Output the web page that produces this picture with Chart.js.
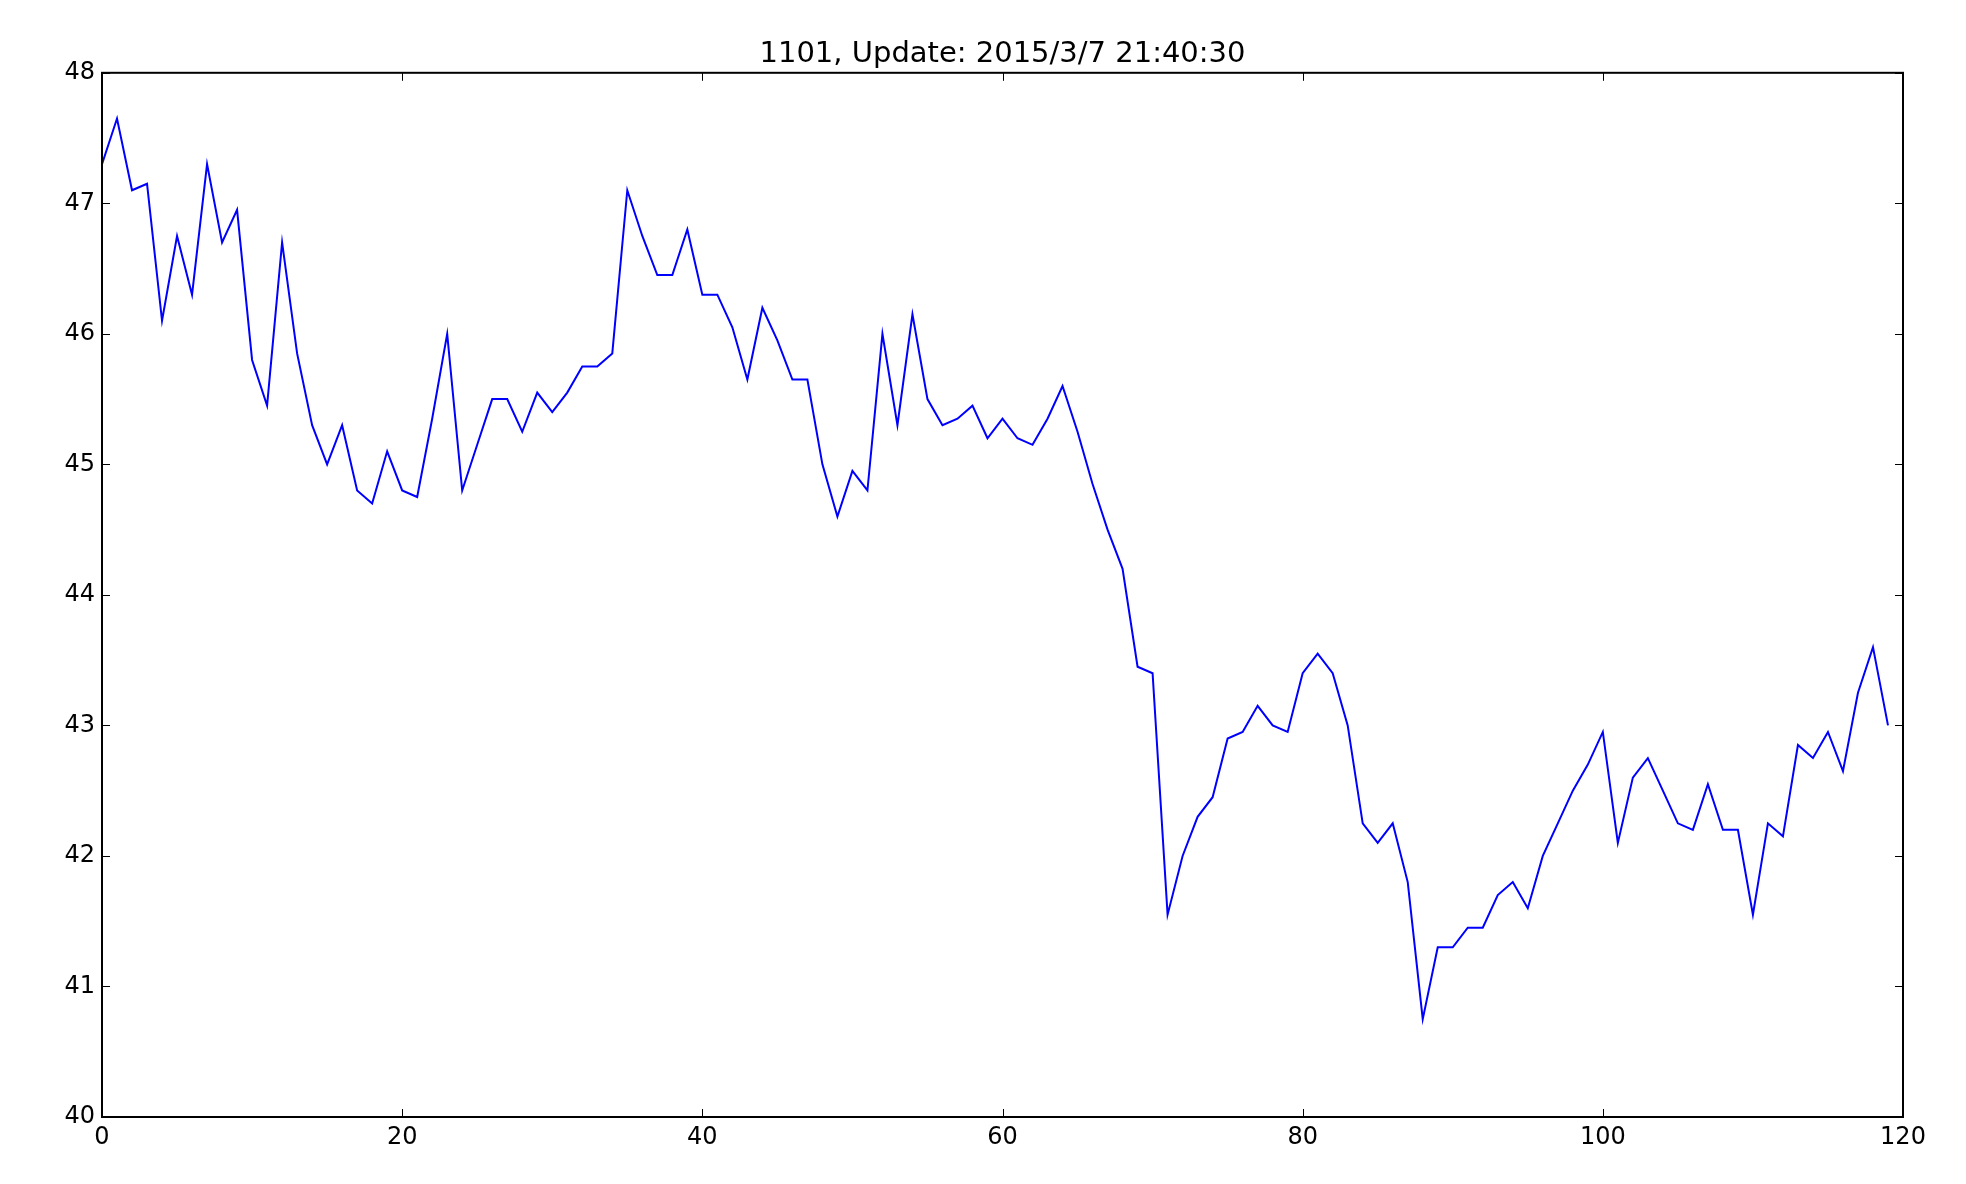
<!DOCTYPE html>
<html>
<head>
<meta charset="utf-8">
<script src="https://cdn.jsdelivr.net/npm/chart.js@4/dist/chart.umd.min.js"></script>
<style>
html,body{margin:0;padding:0;background:#fff;}
#wrap{width:1966px;height:1184px;}
</style>
</head>
<body>
<div id="wrap"><canvas id="c" width="1966" height="1184"></canvas></div>
<script>
const titleText = "1101, Update: 2015/3/7 21:40:30";
const prices = [
  47.3, 47.65, 47.1, 47.15, 46.1, 46.75, 46.3, 47.3, 46.7, 46.95,
  45.8, 45.45, 46.7, 45.85, 45.3, 45.0, 45.3, 44.8, 44.7, 45.1,
  44.8, 44.75, 45.35, 46.0, 44.8, 45.15, 45.5, 45.5, 45.25, 45.55,
  45.4, 45.55, 45.75, 45.75, 45.85, 47.1, 46.75, 46.45, 46.45, 46.8,
  46.3, 46.3, 46.05, 45.65, 46.2, 45.95, 45.65, 45.65, 45.0, 44.6,
  44.95, 44.8, 46.0, 45.3, 46.15, 45.5, 45.3, 45.35, 45.45, 45.2,
  45.35, 45.2, 45.15, 45.35, 45.6, 45.25, 44.85, 44.5, 44.2, 43.45,
  43.4, 41.55, 42.0, 42.3, 42.45, 42.9, 42.95, 43.15, 43.0, 42.95,
  43.4, 43.55, 43.4, 43.0, 42.25, 42.1, 42.25, 41.8, 40.75, 41.3,
  41.3, 41.45, 41.45, 41.7, 41.8, 41.6, 42.0, 42.25, 42.5, 42.7,
  42.95, 42.1, 42.6, 42.75, 42.5, 42.25, 42.2, 42.55, 42.2, 42.2,
  41.55, 42.25, 42.15, 42.85, 42.75, 42.95, 42.65, 43.25, 43.6, 43.0
];
const xTicks = [0, 20, 40, 60, 80, 100, 120];
const yTicks = [40, 41, 42, 43, 44, 45, 46, 47, 48];

const points = prices.map((v, i) => ({x: i, y: v}));

const frameTicks = {
  id: 'frameTicks',
  afterDraw(chart) {
    const ctx = chart.ctx;
    const a = chart.chartArea;
    const xs = chart.scales.x, ys = chart.scales.y;
    const L = 8;
    ctx.save();
    ctx.strokeStyle = '#000';
    ctx.lineWidth = 1;
    ctx.beginPath();
    xTicks.forEach(t => {
      const px = Math.round(xs.getPixelForValue(t)) + 0.5;
      ctx.moveTo(px, a.bottom); ctx.lineTo(px, a.bottom - L);
      ctx.moveTo(px, a.top); ctx.lineTo(px, a.top + L);
    });
    yTicks.forEach(t => {
      const py = Math.round(ys.getPixelForValue(t)) + 0.5;
      ctx.moveTo(a.left, py); ctx.lineTo(a.left + L, py);
      ctx.moveTo(a.right, py); ctx.lineTo(a.right - L, py);
    });
    ctx.stroke();
    ctx.lineWidth = 2;
    ctx.strokeRect(a.left, a.top, a.right - a.left, a.bottom - a.top);
    ctx.restore();
  }
};

new Chart(document.getElementById('c'), {
  type: 'line',
  data: {
    datasets: [{
      data: points,
      borderColor: '#0000ff',
      borderWidth: 2,
      pointRadius: 0,
      fill: false,
      tension: 0
    }]
  },
  options: {
    responsive: false,
    animation: false,
    devicePixelRatio: 1,
    layout: {padding: {left: 0, right: 63, top: 0, bottom: 0}},
    plugins: {
      legend: {display: false},
      tooltip: {enabled: false},
      title: {
        display: true,
        fullSize: false,
        text: titleText,
        color: '#000',
        font: {family: 'DejaVu Sans', size: 29, weight: 'normal'},
        padding: {top: 37, bottom: 1}
      }
    },
    scales: {
      x: {
        type: 'linear',
        min: 0, max: 120,
        afterBuildTicks(s) { s.ticks = xTicks.map(v => ({value: v})); },
        afterFit(s) { s.height = 67; },
        grid: {display: false, drawTicks: false},
        border: {display: false},
        ticks: {color: '#000', font: {family: 'DejaVu Sans', size: 24}, padding: 6, maxRotation: 0, autoSkip: false}
      },
      y: {
        type: 'linear',
        min: 40, max: 48,
        afterBuildTicks(s) { s.ticks = yTicks.map(v => ({value: v})); },
        afterFit(s) { s.width = 102; },
        grid: {display: false, drawTicks: false},
        border: {display: false},
        ticks: {color: '#000', font: {family: 'DejaVu Sans', size: 24}, padding: 7, autoSkip: false}
      }
    }
  },
  plugins: [frameTicks]
});
</script>
</body>
</html>
